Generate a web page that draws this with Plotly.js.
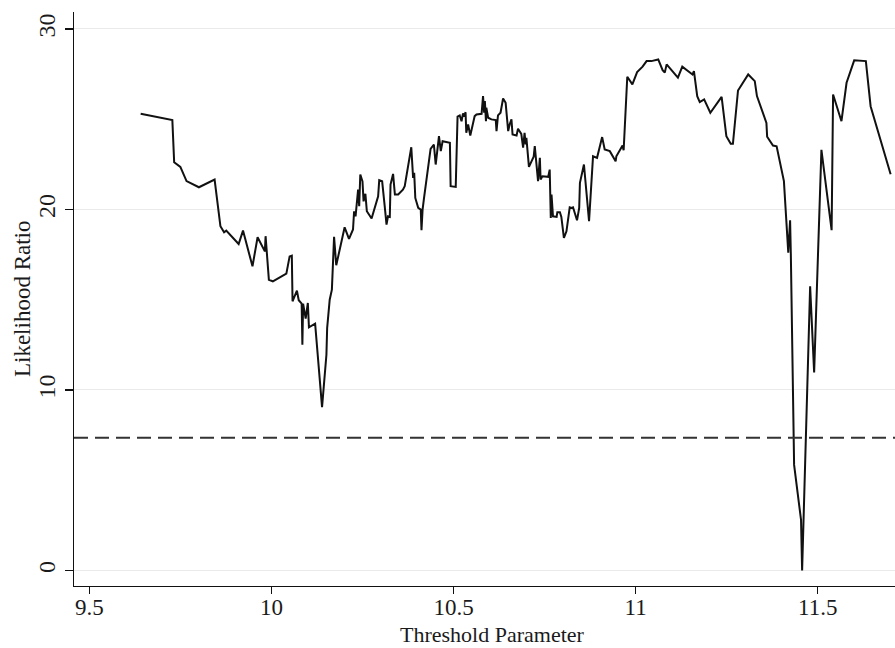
<!DOCTYPE html>
<html>
<head>
<meta charset="utf-8">
<script src="https://cdn.plot.ly/plotly-3.0.1.min.js"></script>
<style>html,body{margin:0;padding:0;background:#fff;}#chart{width:895px;height:648px;}</style>
</head>
<body>
<div id="chart"></div>
<script>
var thresholdValues = [
9.641, 9.728, 9.733, 9.750, 9.767, 9.801, 9.844, 9.860, 9.870, 9.876,
9.910, 9.922, 9.948, 9.962, 9.982, 9.984, 9.993, 10.004, 10.041, 10.050,
10.056, 10.058, 10.070, 10.075, 10.083, 10.085, 10.087, 10.094, 10.100, 10.103,
10.120, 10.139, 10.151, 10.153, 10.160, 10.166, 10.172, 10.178, 10.201, 10.213,
10.224, 10.227, 10.231, 10.238, 10.241, 10.244, 10.250, 10.253, 10.258, 10.262,
10.275, 10.293, 10.296, 10.304, 10.311, 10.316, 10.320, 10.325, 10.327, 10.334,
10.339, 10.348, 10.361, 10.366, 10.384, 10.389, 10.392, 10.395, 10.403, 10.410,
10.412, 10.415, 10.419, 10.437, 10.446, 10.451, 10.460, 10.465, 10.470, 10.490,
10.492, 10.506, 10.511, 10.517, 10.522, 10.526, 10.529, 10.533, 10.535, 10.540,
10.546, 10.558, 10.563, 10.577, 10.581, 10.584, 10.586, 10.589, 10.590, 10.595,
10.604, 10.616, 10.618, 10.622, 10.629, 10.636, 10.643, 10.650, 10.654, 10.659,
10.662, 10.673, 10.677, 10.686, 10.691, 10.695, 10.698, 10.700, 10.707, 10.720,
10.723, 10.728, 10.732, 10.737, 10.739, 10.744, 10.760, 10.764, 10.767, 10.769,
10.773, 10.783, 10.785, 10.792, 10.796, 10.803, 10.810, 10.819, 10.824, 10.828,
10.839, 10.845, 10.847, 10.858, 10.872, 10.883, 10.894, 10.908, 10.915, 10.929,
10.945, 10.947, 10.964, 10.967, 10.977, 10.991, 11.004, 11.019, 11.030, 11.043,
11.062, 11.074, 11.080, 11.085, 11.116, 11.128, 11.156, 11.160, 11.169, 11.176,
11.188, 11.205, 11.236, 11.249, 11.261, 11.267, 11.281, 11.309, 11.327, 11.333,
11.359, 11.361, 11.377, 11.387, 11.407, 11.419, 11.424, 11.426, 11.435, 11.454,
11.457, 11.479, 11.490, 11.510, 11.538, 11.542, 11.565, 11.579, 11.600, 11.632,
11.645, 11.700
];
var likelihoodRatio = [
25.30, 24.95, 22.62, 22.36, 21.57, 21.23, 21.66, 19.07, 18.74, 18.83,
18.09, 18.83, 16.85, 18.46, 17.68, 18.52, 16.11, 16.02, 16.44, 17.40,
17.44, 14.91, 15.50, 14.97, 14.78, 12.51, 14.78, 13.95, 14.82, 13.47,
13.67, 9.05, 11.95, 13.43, 15.00, 15.56, 18.48, 16.91, 19.01, 18.37,
18.89, 19.90, 19.62, 21.10, 20.18, 21.94, 21.56, 20.45, 20.87, 19.90,
19.50, 20.73, 21.62, 21.56, 20.18, 19.16, 19.62, 19.59, 21.38, 21.97,
20.83, 20.83, 21.10, 21.29, 23.45, 21.75, 22.03, 20.64, 20.09, 19.99,
18.85, 19.99, 20.64, 23.36, 23.60, 22.49, 24.06, 23.23, 23.78, 23.69,
21.29, 21.25, 25.14, 25.21, 24.89, 25.32, 25.14, 25.39, 24.25, 24.71,
24.10, 25.17, 25.26, 25.30, 26.28, 25.36, 26.00, 24.89, 25.64, 25.08,
24.99, 24.95, 24.34, 25.21, 25.36, 26.15, 25.91, 24.34, 24.71, 24.99,
24.15, 24.10, 24.47, 24.19, 23.42, 24.25, 23.60, 23.97, 22.36, 22.92,
23.51, 22.58, 21.57, 22.86, 21.66, 21.84, 21.81, 22.21, 19.53, 20.83,
19.62, 19.59, 19.85, 19.85, 19.59, 18.42, 18.79, 20.12, 20.09, 20.12,
19.40, 20.09, 21.48, 22.49, 19.35, 22.95, 22.86, 24.01, 23.32, 23.23,
22.67, 22.95, 23.54, 23.28, 27.35, 26.93, 27.61, 27.91, 28.22, 28.22,
28.31, 27.72, 27.58, 28.04, 27.30, 27.91, 27.48, 27.67, 26.28, 25.95,
26.10, 25.36, 26.24, 24.06, 23.64, 23.64, 26.59, 27.48, 27.11, 26.28,
24.80, 24.03, 23.54, 23.50, 21.57, 17.60, 19.40, 17.55, 5.85, 2.80,
0.00, 15.74, 10.97, 23.30, 18.85, 26.37, 24.89, 27.02, 28.26, 28.22,
25.72, 21.95
];
var criticalValue = 7.35;
var xTicks = [9.5, 10, 10.5, 11, 11.5];
var xTickLabels = ["9.5", "10", "10.5", "11", "11.5"];
var yTicks = [0, 10, 20, 30];
var yTickLabels = ["0", "10", "20", "30"];

var serif = "Liberation Serif, Times New Roman, serif";

var trace = {
  x: thresholdValues,
  y: likelihoodRatio,
  type: "scatter",
  mode: "lines",
  line: {color: "#111111", width: 2},
  hoverinfo: "x+y",
  showlegend: false
};

var layout = {
  width: 895,
  height: 648,
  margin: {l: 74, r: 0, t: 12, b: 62},
  paper_bgcolor: "#ffffff",
  plot_bgcolor: "#ffffff",
  font: {family: serif, size: 23, color: "#1a1a1a"},
  xaxis: {
    range: [9.458, 11.712],
    tickmode: "array",
    tickvals: xTicks,
    ticktext: xTickLabels,
    showgrid: false,
    zeroline: false,
    showline: true,
    linecolor: "#111111",
    linewidth: 1.3,
    ticks: "outside",
    ticklen: 7,
    tickwidth: 1.3,
    tickcolor: "#111111",
    ticklabelstandoff: -7,
    tickfont: {family: serif, size: 23, color: "#1a1a1a"}
  },
  yaxis: {
    range: [-0.86, 30.94],
    tickmode: "array",
    tickvals: yTicks,
    ticktext: yTickLabels,
    tickangle: -90,
    showgrid: true,
    gridcolor: "#eaeaea",
    gridwidth: 1,
    zeroline: false,
    showline: true,
    linecolor: "#111111",
    linewidth: 1.3,
    ticks: "outside",
    ticklen: 8,
    tickwidth: 1.3,
    tickcolor: "#111111",
    tickfont: {family: serif, size: 24, color: "#1a1a1a"}
  },
  shapes: [{
    type: "line",
    xref: "paper", x0: 0, x1: 1,
    yref: "y", y0: criticalValue, y1: criticalValue,
    line: {color: "#333333", width: 2, dash: "14px,7px"},
    layer: "above"
  }],
  annotations: [
    {text: "Threshold Parameter", xref: "paper", yref: "paper", x: 0.51, y: -0.0845,
     xanchor: "center", yanchor: "middle", showarrow: false,
     font: {family: serif, size: 22, color: "#1a1a1a"}},
    {text: "Likelihood Ratio", xref: "paper", yref: "paper", x: -0.0633, y: 0.5,
     xanchor: "center", yanchor: "middle", textangle: -90, showarrow: false,
     font: {family: serif, size: 23, color: "#1a1a1a"}}
  ]
};

Plotly.newPlot("chart", [trace], layout, {displayModeBar: false, staticPlot: true});
</script>
</body>
</html>
